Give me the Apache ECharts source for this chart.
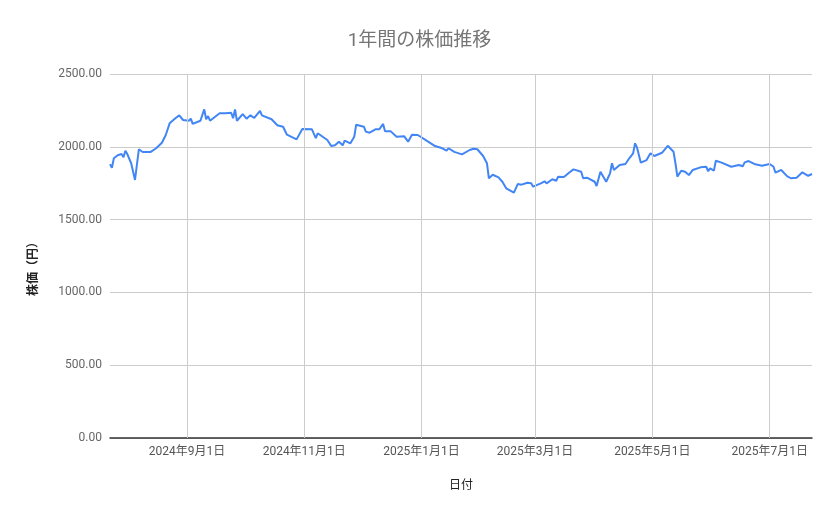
<!DOCTYPE html>
<html>
<head>
<meta charset="utf-8">
<script src="https://cdn.jsdelivr.net/npm/echarts@6/dist/echarts.min.js"></script>
<style>
html,body{margin:0;padding:0;background:#fff;}
#chart{width:839px;height:519px;}
</style>
</head>
<body>
<div id="chart"></div>
<script>
var dates = [
"2024-07-23","2024-07-24","2024-07-25","2024-07-27","2024-07-29","2024-07-30","2024-07-31","2024-08-01",
"2024-08-03","2024-08-05","2024-08-07","2024-08-09","2024-08-13","2024-08-16","2024-08-19","2024-08-21",
"2024-08-23","2024-08-26","2024-08-28","2024-08-29","2024-08-30","2024-09-02","2024-09-03","2024-09-04",
"2024-09-08","2024-09-10","2024-09-11","2024-09-12","2024-09-13","2024-09-18","2024-09-21","2024-09-24",
"2024-09-25","2024-09-26","2024-09-27","2024-09-30","2024-10-02","2024-10-04","2024-10-06","2024-10-09",
"2024-10-10","2024-10-15","2024-10-18","2024-10-21","2024-10-23","2024-10-28","2024-10-31","2024-11-05",
"2024-11-07","2024-11-08","2024-11-13","2024-11-15","2024-11-17","2024-11-19","2024-11-21","2024-11-22",
"2024-11-25","2024-11-27","2024-11-28","2024-12-02","2024-12-03","2024-12-05","2024-12-08","2024-12-10",
"2024-12-12","2024-12-13","2024-12-16","2024-12-19","2024-12-23","2024-12-25","2024-12-27","2024-12-30",
"2025-01-03","2025-01-08","2025-01-11","2025-01-14","2025-01-15","2025-01-18","2025-01-22","2025-01-26",
"2025-01-28","2025-01-30","2025-02-02","2025-02-04","2025-02-05","2025-02-07","2025-02-10","2025-02-12",
"2025-02-14","2025-02-18","2025-02-20","2025-02-22","2025-02-25","2025-02-27","2025-02-28","2025-03-04",
"2025-03-06","2025-03-07","2025-03-10","2025-03-12","2025-03-13","2025-03-16","2025-03-19","2025-03-21",
"2025-03-25","2025-03-26","2025-03-28","2025-04-01","2025-04-02","2025-04-04","2025-04-07","2025-04-09",
"2025-04-10","2025-04-11","2025-04-14","2025-04-17","2025-04-19","2025-04-21","2025-04-22","2025-04-23",
"2025-04-25","2025-04-28","2025-04-30","2025-05-02","2025-05-06","2025-05-09","2025-05-12","2025-05-13",
"2025-05-14","2025-05-16","2025-05-18","2025-05-20","2025-05-22","2025-05-26","2025-05-27","2025-05-29",
"2025-05-30","2025-05-31","2025-06-02","2025-06-03","2025-06-06","2025-06-11","2025-06-15","2025-06-17",
"2025-06-18","2025-06-20","2025-06-23","2025-06-27","2025-07-01","2025-07-03","2025-07-04","2025-07-07",
"2025-07-10","2025-07-12","2025-07-15","2025-07-18","2025-07-21","2025-07-23"
];
var prices = [
1880,1856,1921,1942,1950,1928,1973,1950,
1887,1772,1983,1964,1964,1990,2028,2081,
2161,2196,2216,2220,2184,2179,2193,2157,
2179,2257,2189,2211,2179,2230,2230,2234,
2196,2257,2179,2225,2193,2216,2198,2246,
2216,2189,2148,2138,2083,2051,2122,2120,
2060,2093,2047,2005,2010,2034,2010,2042,
2024,2069,2152,2138,2104,2097,2120,2120,
2157,2106,2106,2069,2072,2035,2083,2081,
2047,2005,1994,1973,1990,1965,1948,1978,
1987,1983,1937,1887,1784,1808,1790,1760,
1715,1685,1744,1740,1753,1749,1726,1749,
1763,1749,1777,1767,1795,1793,1825,1845,
1829,1784,1788,1760,1731,1829,1760,1818,
1887,1841,1875,1882,1921,1955,2024,1996,
1891,1909,1955,1937,1959,2007,1966,1887,
1795,1836,1829,1806,1841,1859,1850,1863,
1832,1852,1836,1904,1891,1863,1875,1866,
1893,1902,1882,1870,1882,1863,1822,1841,
1799,1784,1788,1825,1801,1813
];
var xTicks = ["2024-09-01","2024-11-01","2025-01-01","2025-03-01","2025-05-01","2025-07-01"];
var xTickLabels = ["2024年9月1日","2024年11月1日","2025年1月1日","2025年3月1日","2025年5月1日","2025年7月1日"];
var yTicks = [0,500,1000,1500,2000,2500];

var chart = echarts.init(document.getElementById('chart'));
var font = 'Roboto, "Noto Sans CJK JP", sans-serif';
chart.setOption({
  animation:false,
  backgroundColor:'#fff',
  textStyle:{fontFamily:font},
  title:{
    text:'1年間の株価推移',
    left:'center', top:27,
    textStyle:{fontSize:19,fontWeight:'normal',color:'#757575',fontFamily:font}
  },
  grid:{left:110,right:27,top:74,bottom:81,containLabel:false},
  xAxis:{
    type:'time',
    min:'dataMin', max:'dataMax',
    name:'日付', nameLocation:'middle', nameGap:42,
    nameTextStyle:{fontSize:12,color:'#222'},
    axisLine:{show:true,lineStyle:{color:'#333',width:1.5}},
    axisTick:{show:false},
    axisLabel:{show:false},
    splitLine:{show:false}
  },
  yAxis:{
    type:'value',
    min:yTicks[0], max:yTicks[yTicks.length-1], interval:500,
    name:'株価（円）', nameLocation:'middle', nameGap:70, nameRotate:90,
    nameTextStyle:{fontSize:12,color:'#222',fontWeight:'bold',padding:[0,0,0,-20]},
    axisLine:{show:false}, axisTick:{show:false},
    axisLabel:{color:'#666',fontSize:12,margin:8,formatter:function(v){return v.toFixed(2);}},
    splitLine:{show:true,lineStyle:{color:'#cccccc',width:1}}
  },
  series:[{
    type:'line',
    data:dates.map(function(d,i){return [d,prices[i]];}),
    showSymbol:false,
    lineStyle:{color:'#4285f4',width:2},
    itemStyle:{color:'#4285f4'},
    emphasis:{disabled:true},
    markLine:{
      silent:true, symbol:['none','none'],
      lineStyle:{color:'#cccccc',width:1,type:'solid'},
      label:{show:true,position:'start',distance:8,color:'#555',fontSize:12,fontFamily:font},
      data:xTicks.map(function(s,i){return {xAxis:s,label:{formatter:xTickLabels[i]}};})
    },
    z:3
  }]
});
</script>
</body>
</html>
